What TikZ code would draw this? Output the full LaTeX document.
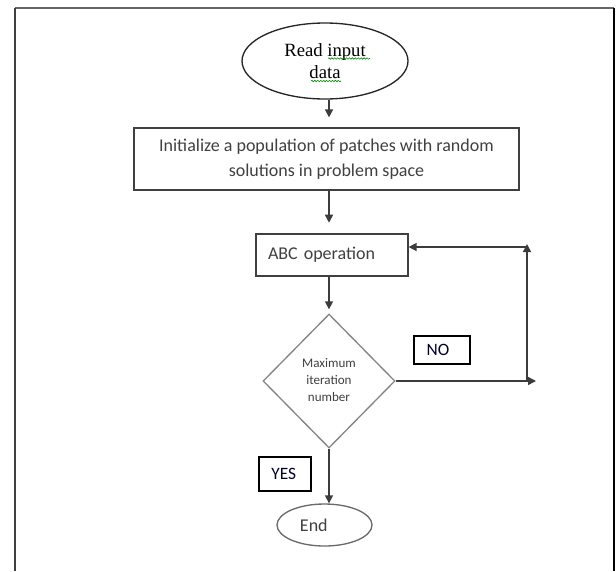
\documentclass[tikz,border=0pt]{standalone}
\usepackage{fontspec}
\setmainfont{Carlito}
\newfontfamily\timesf{Liberation Serif}
\usetikzlibrary{shapes.geometric,arrows.meta,decorations.pathmorphing}
\definecolor{txt}{HTML}{404040}
\definecolor{lin}{HTML}{3C3C3C}
\definecolor{gry}{HTML}{858585}
\tikzset{
  conn/.style={draw=lin,line width=1.1pt,-{Triangle[length=6pt,width=6pt]}},
  plain/.style={draw=lin,line width=1.1pt},
  procbox/.style={rectangle,draw=black!75,line width=0.9pt,text=txt,inner sep=0pt},
  tagbox/.style={rectangle,draw=black,line width=0.8pt,text=black!85!blue,inner sep=0pt,
     font=\fontsize{13}{15}\selectfont},
  squig/.style={draw=green!55!black,line width=0.45pt,decorate,
     decoration={snake,segment length=2.2pt,amplitude=0.55pt}}
}
\begin{document}
\begin{tikzpicture}[x=0.75pt,y=-0.75pt]
\useasboundingbox (0,0) rectangle (616,571);
% frame
\draw[gray!80!black,line width=1.2pt] (15,8) -- (614,8);
\draw[black!75,line width=1.2pt] (15,8) -- (15,571);
\draw[black,line width=1.2pt] (614,8) -- (614,571);

\coordinate (axis) at (329,0);

\node[ellipse,draw=black!85,line width=1pt,minimum width=124.5pt,minimum height=57pt,
      inner sep=0pt,align=center,font=\timesf\fontsize{14}{16.5}\selectfont]
      (read) at (325,61) {Read input\\data};
\draw[squig] (328,58.5) -- (370,58.5);
\draw[squig] (311,81) -- (341,81);

\node[procbox,minimum width=288.75pt,minimum height=46.5pt,align=center,
      font=\fontsize{13.5}{18.75}\selectfont]
      (init) at (326.5,159) {Initialize a population of patches with random\\solutions in problem space};

\node[procbox,minimum width=114pt,minimum height=31.5pt,text width=96pt,align=left,
      inner xsep=9pt,font=\fontsize{13.5}{16}\selectfont]
      (abc) at (332,255) {ABC operation};

\node[diamond,draw=gry,line width=1pt,minimum width=99pt,minimum height=100.5pt,
      inner sep=0pt,align=center,text=txt,font=\fontsize{9.8}{13.9}\selectfont]
      (dia) at (329,381) {\raisebox{4pt}{\begin{tabular}{@{}c@{}}Maximum\\[-1.2pt]iteration\\[-1.2pt]number\end{tabular}}};

\node[tagbox,minimum width=42pt,minimum height=21pt] (no) at (442,350) {NO\hspace*{6pt}};
\node[tagbox,minimum width=39pt,minimum height=25.5pt] (yes) at (285,474) {YES\hspace*{2pt}};

\node[ellipse,draw=gry!80!black,line width=1pt,minimum width=71.25pt,minimum height=31.5pt,
      inner sep=0pt,text=txt,font=\fontsize{13.5}{16}\selectfont]
      (end) at (324.5,525) {End\hspace*{16pt}};

% connectors
\draw[conn,shorten >=7.5pt] (read.south -| axis) -- (init.north -| axis);
\draw[conn,shorten >=8pt] (init.south -| axis) -- (abc.north -| axis);
\draw[conn,shorten >=3pt] (abc.south -| axis) -- (dia.north);
\draw[conn] (dia.south) -- (end.north -| axis);

\coordinate (r1) at (536,381);
\coordinate (r2) at (527,381);
\coordinate (r3) at (527,244);
\coordinate (r4) at (527,247);
\draw[conn] (dia.east) -- (r1);
\draw[conn] (r2) -- (r3);
\draw[conn] (r4) -- (abc.east |- r4);
\end{tikzpicture}
\end{document}
